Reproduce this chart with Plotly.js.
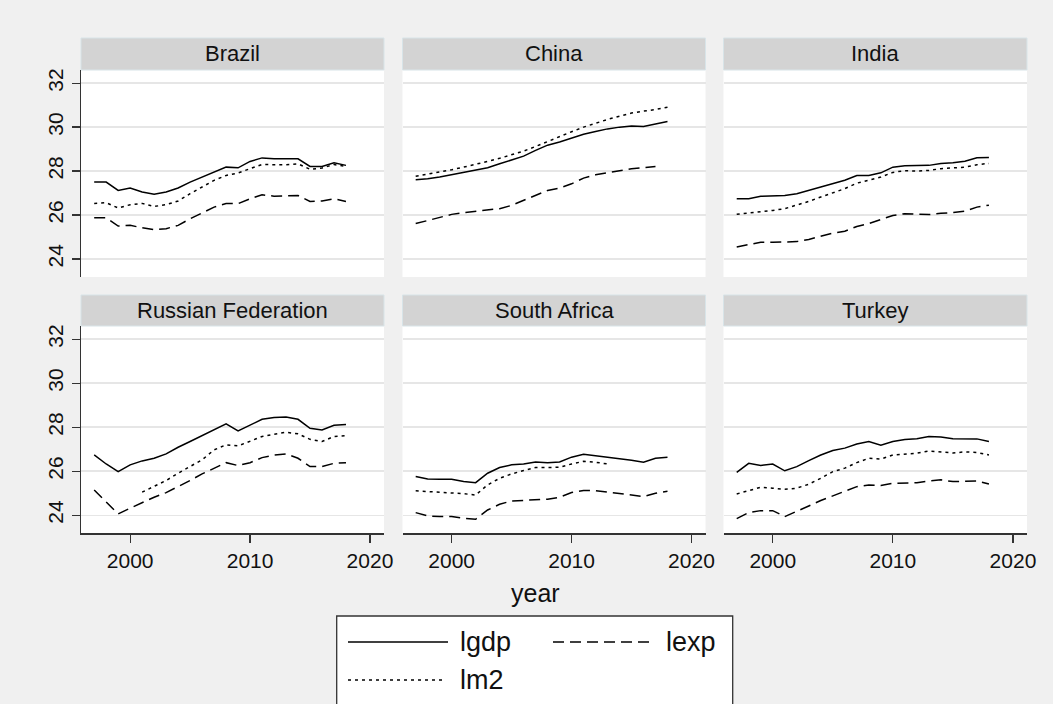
<!DOCTYPE html>
<html>
<head>
<meta charset="utf-8">
<script src="https://cdn.plot.ly/plotly-3.0.1.min.js"></script>
<style>html,body{margin:0;padding:0;background:#f0f0f0;}#chart{width:1053px;height:704px;}</style>
</head>
<body>
<div id="chart"></div>
<script>
// ---- data ----
const years = [1997,1998,1999,2000,2001,2002,2003,2004,2005,2006,2007,2008,2009,2010,2011,2012,2013,2014,2015,2016,2017,2018];
const countries = ["Brazil","China","India","Russian Federation","South Africa","Turkey"];
const seriesNames = ["lgdp","lexp","lm2"];

const brazil_lgdp = [27.50,27.50,27.12,27.23,27.05,26.95,27.05,27.23,27.50,27.73,27.95,28.18,28.15,28.44,28.60,28.56,28.56,28.56,28.21,28.21,28.38,28.26];
const brazil_lexp = [25.88,25.88,25.50,25.53,25.42,25.33,25.38,25.53,25.83,26.11,26.36,26.52,26.52,26.74,26.92,26.86,26.89,26.89,26.62,26.64,26.74,26.62];
const brazil_lm2  = [26.53,26.56,26.32,26.47,26.53,26.39,26.47,26.64,26.97,27.27,27.58,27.80,27.91,28.11,28.30,28.29,28.29,28.33,28.08,28.14,28.30,28.21];

const china_lgdp = [27.61,27.65,27.73,27.83,27.94,28.03,28.15,28.33,28.52,28.68,28.94,29.18,29.32,29.50,29.68,29.80,29.92,30.00,30.05,30.03,30.14,30.26];
const china_lexp = [25.61,25.76,25.91,26.03,26.11,26.17,26.21,26.29,26.44,26.67,26.89,27.12,27.23,27.42,27.68,27.83,27.92,28.03,28.11,28.15,28.21,null];
const china_lm2  = [27.76,27.85,27.95,28.06,28.18,28.30,28.44,28.58,28.73,28.91,29.12,29.35,29.58,29.79,30.00,30.18,30.35,30.50,30.64,30.73,30.80,30.91];

const india_lgdp = [26.74,26.74,26.85,26.86,26.89,26.97,27.12,27.27,27.42,27.58,27.80,27.80,27.92,28.18,28.24,28.24,28.26,28.35,28.38,28.45,28.61,28.62];
const india_lexp = [24.55,24.65,24.76,24.76,24.76,24.79,24.89,25.03,25.18,25.26,25.48,25.61,25.80,25.98,26.06,26.03,26.02,26.08,26.11,26.18,26.36,26.45];
const india_lm2  = [26.03,26.08,26.15,26.21,26.29,26.44,26.62,26.82,27.00,27.20,27.45,27.58,27.73,27.94,28.02,28.00,28.03,28.11,28.15,28.18,28.29,28.35];

const russia_lgdp = [26.74,26.33,25.98,26.29,26.47,26.59,26.79,27.09,27.35,27.62,27.88,28.15,27.83,28.08,28.36,28.44,28.47,28.36,27.95,27.88,28.09,28.12];
const russia_lexp = [25.15,24.62,24.06,24.32,24.58,24.82,25.03,25.30,25.58,25.88,26.14,26.39,26.26,26.39,26.62,26.73,26.79,26.59,26.21,26.21,26.36,26.39];
const russia_lm2  = [null,null,null,null,25.05,25.30,25.58,25.91,26.21,26.52,26.97,27.20,27.15,27.38,27.58,27.68,27.77,27.70,27.45,27.35,27.58,27.62];

const safrica_lgdp = [25.76,25.65,25.64,25.64,25.53,25.48,25.91,26.17,26.29,26.33,26.42,26.39,26.42,26.64,26.77,26.71,26.65,26.59,26.50,26.41,26.59,26.64];
const safrica_lexp = [24.12,23.97,23.94,23.94,23.86,23.82,24.24,24.50,24.65,24.67,24.70,24.73,24.82,25.03,25.12,25.12,25.05,25.00,24.92,24.85,25.00,25.09];
const safrica_lm2  = [25.11,25.08,25.05,25.02,24.98,24.92,25.38,25.68,25.88,26.03,26.17,26.17,26.18,26.33,26.45,26.41,26.33,null,null,null,null,null];

const turkey_lgdp = [25.95,26.36,26.26,26.33,26.02,26.21,26.48,26.74,26.94,27.05,27.24,27.35,27.18,27.35,27.44,27.48,27.58,27.56,27.48,27.48,27.47,27.35];
const turkey_lexp = [23.85,24.12,24.21,24.21,23.94,24.17,24.42,24.67,24.88,25.08,25.30,25.38,25.35,25.45,25.48,25.48,25.56,25.61,25.53,25.56,25.56,25.42];
const turkey_lm2  = [24.97,25.12,25.27,25.23,25.18,25.23,25.41,25.68,25.98,26.14,26.39,26.59,26.55,26.74,26.77,26.82,26.92,26.89,26.83,26.88,26.85,26.74];

const xTicks = [2000,2010,2020];
const yTicks = [24,26,28,30,32];

// ---- build ----
const panelData = [
  [brazil_lgdp, brazil_lexp, brazil_lm2],
  [china_lgdp, china_lexp, china_lm2],
  [india_lgdp, india_lexp, india_lm2],
  [russia_lgdp, russia_lexp, russia_lm2],
  [safrica_lgdp, safrica_lexp, safrica_lm2],
  [turkey_lgdp, turkey_lexp, turkey_lm2]
];
const W = 1053, H = 704;
const px = v => v / W;
const py = v => 1 - v / H;
const dashes = ["solid", "11px,6px", "3px,4px"];
const FONT = "Liberation Sans, Arial, Helvetica, sans-serif";

const colX = [[81, 384], [402.5, 705.5], [723.5, 1027]];
const rowY = [[70, 277], [326, 533.3]];
const hdrY = [[38, 70], [295, 326]];

const traces = [];
const layout = {
  width: W, height: H,
  margin: {l: 0, r: 0, t: 0, b: 0},
  paper_bgcolor: "#f0f0f0",
  plot_bgcolor: "#ffffff",
  showlegend: false,
  font: {family: FONT, color: "#111"},
  shapes: [],
  annotations: []
};

panelData.forEach((series, i) => {
  const r = Math.floor(i / 3), c = i % 3;
  const sfx = i === 0 ? "" : String(i + 1);
  series.forEach((vals, k) => {
    traces.push({
      type: "scatter", mode: "lines",
      x: years, y: vals, name: seriesNames[k],
      xaxis: "x" + sfx, yaxis: "y" + sfx,
      line: {color: "#000", width: 1.5, dash: dashes[k]},
      connectgaps: false, hoverinfo: "skip"
    });
  });
  const bottom = r === 1, left = c === 0;
  layout["xaxis" + sfx] = {
    domain: [px(colX[c][0]), px(colX[c][1])],
    anchor: "y" + sfx,
    range: [1995.9, 2021.17],
    tickvals: xTicks, ticktext: xTicks.map(String),
    showgrid: false, zeroline: false,
    showline: bottom, linecolor: "#333", linewidth: 1.3,
    ticks: bottom ? "outside" : "", ticklen: 8, tickwidth: 1.3, tickcolor: "#333",
    showticklabels: bottom,
    tickfont: {size: 21, family: FONT, color: "#111"}
  };
  layout["yaxis" + sfx] = {
    domain: [py(rowY[r][1]), py(rowY[r][0])],
    anchor: "x" + sfx,
    range: [23.18, 32.6],
    tickvals: yTicks, ticktext: yTicks.map(String),
    showgrid: true, gridcolor: "#e6e6e6", gridwidth: 1.5,
    zeroline: false,
    showline: left, linecolor: "#333", linewidth: 1.3,
    ticks: left ? "outside" : "", ticklen: 8, tickwidth: 1.3, tickcolor: "#333",
    showticklabels: left, tickangle: -90,
    tickfont: {size: 21, family: FONT, color: "#111"}
  };
  // header strip
  layout.shapes.push({
    type: "rect", xref: "paper", yref: "paper",
    x0: px(colX[c][0]), x1: px(colX[c][1]),
    y0: py(hdrY[r][1]), y1: py(hdrY[r][0]),
    fillcolor: "#d3d3d3", line: {color: "#d8e4e8", width: 1}, layer: "below"
  });
  layout.annotations.push({
    xref: "paper", yref: "paper",
    x: px((colX[c][0] + colX[c][1]) / 2), y: py((hdrY[r][0] + hdrY[r][1]) / 2),
    xanchor: "center", yanchor: "middle", showarrow: false,
    text: countries[i], font: {size: 22, family: FONT, color: "#111"}
  });
});

// x-axis title
layout.annotations.push({
  xref: "paper", yref: "paper", x: px(535), y: py(593),
  xanchor: "center", yanchor: "middle", showarrow: false,
  text: "year", font: {size: 25, family: FONT, color: "#111"}
});

// legend box (drawn manually to match reference layout)
layout.shapes.push({
  type: "rect", xref: "paper", yref: "paper",
  x0: px(336.7), x1: px(732.7), y0: py(706), y1: py(616),
  fillcolor: "#ffffff", line: {color: "#333", width: 1.3}
});
const legItems = [
  {name: seriesNames[0], dash: dashes[0], x0: 348, x1: 448, y: 642, tx: 458},
  {name: seriesNames[1], dash: dashes[1], x0: 553, x1: 653, y: 642, tx: 664},
  {name: seriesNames[2], dash: dashes[2], x0: 348, x1: 446, y: 680, tx: 458}
];
legItems.forEach(it => {
  layout.shapes.push({
    type: "line", xref: "paper", yref: "paper",
    x0: px(it.x0), x1: px(it.x1), y0: py(it.y), y1: py(it.y),
    line: {color: "#000", width: 1.5, dash: it.dash}
  });
  layout.annotations.push({
    xref: "paper", yref: "paper", x: px(it.tx), y: py(it.y),
    xanchor: "left", yanchor: "middle", showarrow: false,
    text: it.name, font: {size: 27, family: FONT, color: "#111"}
  });
});

Plotly.newPlot("chart", traces, layout, {staticPlot: true, displayModeBar: false});
</script>
</body>
</html>
